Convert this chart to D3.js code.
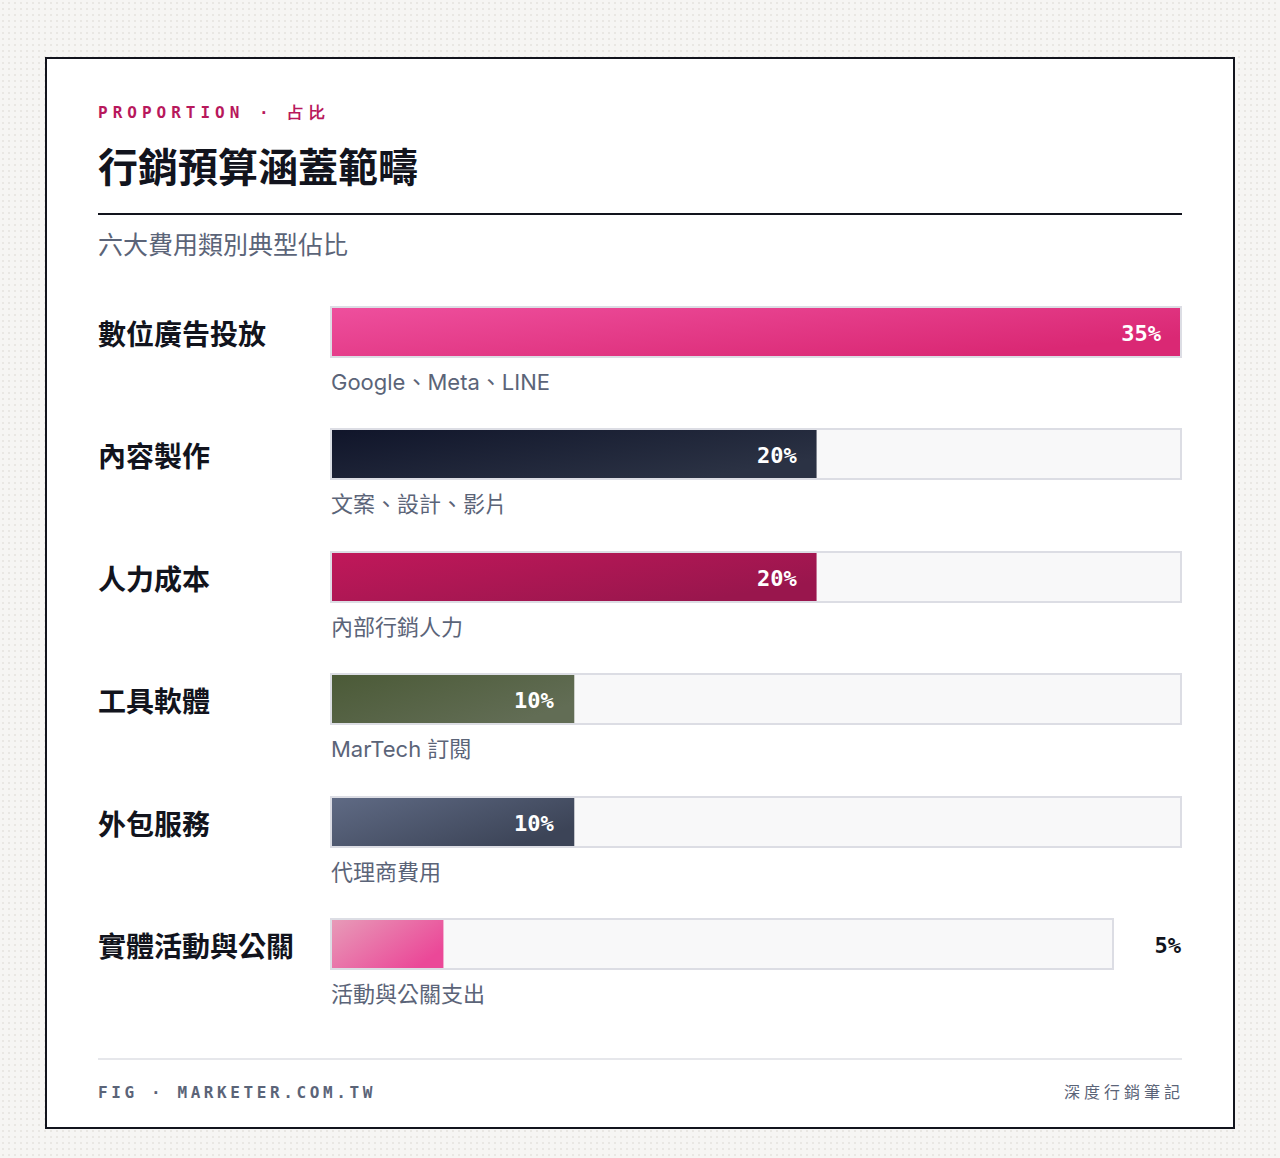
<!DOCTYPE html>
<html>
<head>
<meta charset="utf-8">
<script src="https://cdn.jsdelivr.net/npm/d3@7"></script>
<style>
  html, body { margin: 0; padding: 0; background: #f5f4f2; }
  svg { display: block; }
</style>
</head>
<body>
<svg id="chart" width="1280" height="1158"></svg>
<script>
// data
var categories = ["數位廣告投放", "內容製作", "人力成本", "工具軟體", "外包服務", "實體活動與公關"];
var shares = [35, 20, 20, 10, 10, 5];
var notes = ["Google、Meta、LINE", "文案、設計、影片", "內部行銷人力", "MarTech 訂閱", "代理商費用", "活動與公關支出"];
var colorsFrom = ["#ee4f9d", "#10152a", "#c0185a", "#4b5a37", "#5f6a84", "#e79bb8"];
var colorsTo = ["#da2874", "#2b3244", "#99164d", "#626d55", "#3c4457", "#eb4898"];

var svg = d3.select('#chart');
var defs = svg.append('defs');

// dotted paper background
var pat = defs.append('pattern')
  .attr('id', 'dots')
  .attr('width', 6).attr('height', 6)
  .attr('patternUnits', 'userSpaceOnUse');
pat.append('rect').attr('width', 6).attr('height', 6).attr('fill', '#f6f5f3');
pat.append('rect').attr('x', 2).attr('y', 2).attr('width', 2).attr('height', 2).attr('fill', '#e9e7e3');
svg.append('rect').attr('width', 1280).attr('height', 1158).attr('fill', 'url(#dots)');

// card
svg.append('rect')
  .attr('x', 46).attr('y', 58)
  .attr('width', 1188).attr('height', 1070)
  .attr('fill', '#ffffff')
  .attr('stroke', '#12141d')
  .attr('stroke-width', 2);

var left = 98, right = 1182;
var mono = "'DejaVu Sans Mono', 'Liberation Mono', monospace";
var sans = "Inter, 'Noto Sans CJK TC', 'Noto Sans', sans-serif";
var cjk = "'Noto Sans CJK TC', 'Noto Sans', sans-serif";

// header
svg.append('text')
  .attr('x', left).attr('y', 118)
  .attr('fill', '#b8185c')
  .style('font-family', mono)
  .style('font-weight', 700)
  .style('font-size', '16px')
  .style('letter-spacing', '5px')
  .text('PROPORTION · 占比');

svg.append('text')
  .attr('x', left).attr('y', 182)
  .attr('fill', '#12141d')
  .style('font-family', cjk)
  .style('font-weight', 700)
  .style('font-size', '40px')
  .text('行銷預算涵蓋範疇');

svg.append('line')
  .attr('x1', left).attr('x2', right)
  .attr('y1', 214).attr('y2', 214)
  .attr('stroke', '#12141d').attr('stroke-width', 2);

svg.append('text')
  .attr('x', left).attr('y', 254)
  .attr('fill', '#5b6478')
  .style('font-family', cjk)
  .style('font-size', '25px')
  .text('六大費用類別典型佔比');

// rows
var trackX = 331, trackW = 850, barH = 50;
var y = d3.scalePoint().domain(categories).range([307, 919]);
var maxShare = d3.max(shares);

var rows = categories.map(function(c, i) {
  return { name: c, value: shares[i], note: notes[i], from: colorsFrom[i], to: colorsTo[i], i: i };
});

rows.forEach(function(d) {
  var g = defs.append('linearGradient')
    .attr('id', 'grad' + d.i)
    .attr('x1', 0).attr('y1', 0).attr('x2', 1).attr('y2', 0.6);
  g.append('stop').attr('offset', '0%').attr('stop-color', d.from);
  g.append('stop').attr('offset', '100%').attr('stop-color', d.to);
});

var row = svg.selectAll('.row')
  .data(rows)
  .enter().append('g')
  .attr('class', 'row')
  .attr('transform', function(d) { return 'translate(0,' + Math.round(y(d.name)) + ')'; });

// small values get their label outside, the track shrinks to make room
var outside = function(d) { return d.value < 8; };
var trackWidth = function(d) { return outside(d) ? trackW - 68 : trackW; };

row.append('text')
  .attr('x', left).attr('y', barH / 2 + 1)
  .attr('dominant-baseline', 'central')
  .attr('fill', '#12141d')
  .style('font-family', cjk)
  .style('font-weight', 700)
  .style('font-size', '28px')
  .text(function(d) { return d.name; });

row.append('rect')
  .attr('x', trackX).attr('y', 0)
  .attr('width', trackWidth).attr('height', barH)
  .attr('fill', '#f8f8f9')
  .attr('stroke', '#dcdde4')
  .attr('stroke-width', 2);

row.append('rect')
  .attr('x', trackX + 1).attr('y', 1)
  .attr('width', function(d) {
    var x = d3.scaleLinear().domain([0, maxShare]).range([0, trackWidth(d) - 2]);
    return x(d.value);
  })
  .attr('height', barH - 2)
  .attr('fill', function(d) { return 'url(#grad' + d.i + ')'; });

row.append('text')
  .attr('x', function(d) {
    if (outside(d)) return right - 1;
    var x = d3.scaleLinear().domain([0, maxShare]).range([0, trackWidth(d)]);
    return trackX + x(d.value) - 20;
  })
  .attr('y', barH / 2 + 1)
  .attr('text-anchor', 'end')
  .attr('dominant-baseline', 'central')
  .attr('fill', function(d) { return outside(d) ? '#12141d' : '#ffffff'; })
  .style('font-family', mono)
  .style('font-weight', 700)
  .style('font-size', '22px')
  .text(function(d) { return d.value + '%'; });

row.append('text')
  .attr('x', trackX).attr('y', barH + 25)
  .attr('dominant-baseline', 'central')
  .attr('fill', '#5b6478')
  .style('font-family', sans)
  .style('font-size', '22px')
  .text(function(d) { return d.note; });

// footer
svg.append('line')
  .attr('x1', left).attr('x2', right)
  .attr('y1', 1059).attr('y2', 1059)
  .attr('stroke', '#e6e7eb').attr('stroke-width', 2);

svg.append('text')
  .attr('x', left).attr('y', 1098)
  .attr('fill', '#5b6478')
  .style('font-family', mono)
  .style('font-weight', 700)
  .style('font-size', '16px')
  .style('letter-spacing', '3.6px')
  .text('FIG · MARKETER.COM.TW');

svg.append('text')
  .attr('x', right + 2).attr('y', 1098)
  .attr('text-anchor', 'end')
  .attr('fill', '#5b6478')
  .style('font-family', cjk)
  .style('font-size', '16px')
  .style('letter-spacing', '4px')
  .text('深度行銷筆記');
</script>
</body>
</html>
